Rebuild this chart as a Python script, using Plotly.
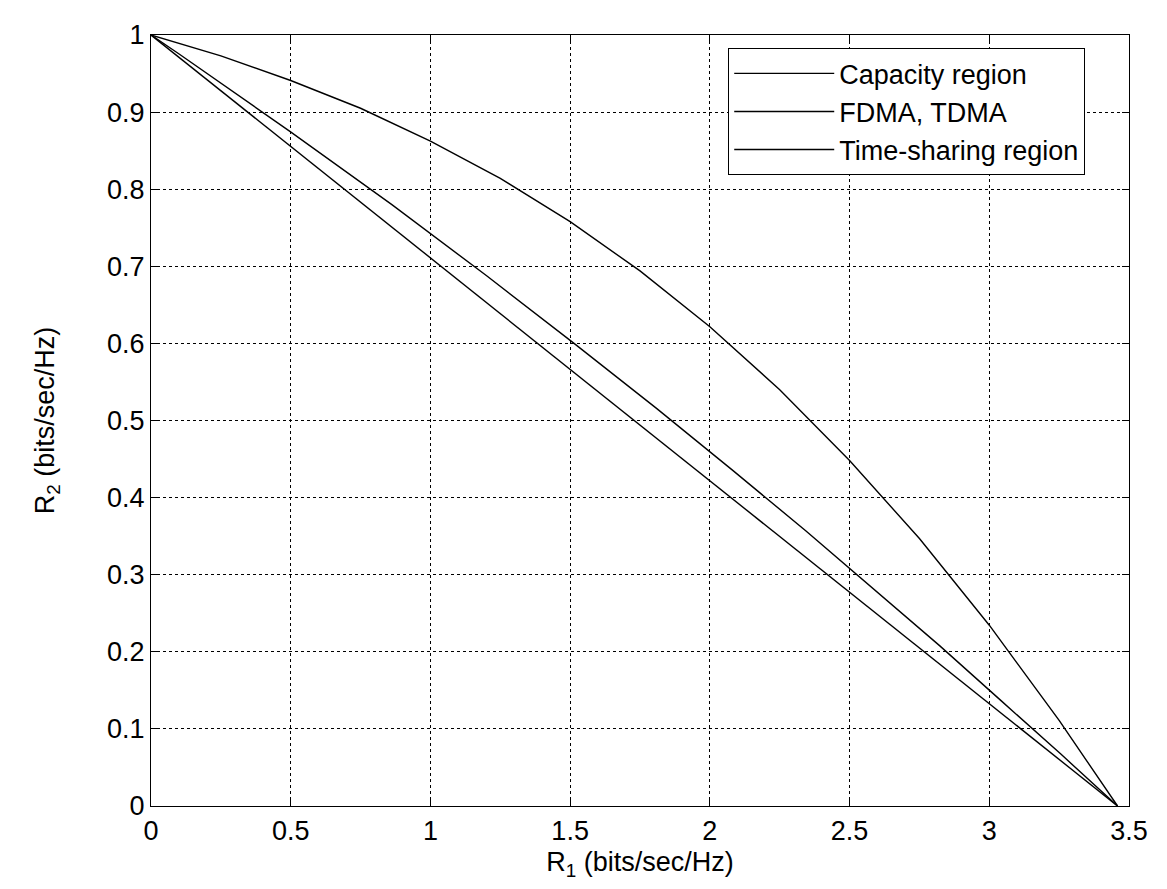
import plotly.graph_objects as go

# Capacity region (R1, R2)
cap_r1 = [0.0, 0.25, 0.5, 0.75, 1.0, 1.25, 1.5, 1.75, 2.0, 2.25, 2.5, 2.75, 3.0, 3.25, 3.459]
cap_r2 = [1.0, 0.973, 0.941, 0.905, 0.8625, 0.814, 0.758, 0.694, 0.6215, 0.540, 0.448, 0.347, 0.2345, 0.111, 0.0]

# FDMA, TDMA
fd_r1 = [0.0, 0.098, 0.497, 0.862, 1.200, 1.514, 1.808, 2.083, 2.343, 2.589, 2.822, 3.044, 3.257, 3.459]
fd_r2 = [1.0, 0.976, 0.875, 0.780, 0.688, 0.600, 0.516, 0.435, 0.357, 0.281, 0.208, 0.136, 0.067, 0.0]

# Time-sharing region
ts_r1 = [0.0, 3.459]
ts_r2 = [1.0, 0.0]

x_ticks = [0, 0.5, 1, 1.5, 2, 2.5, 3, 3.5]
y_ticks = [0, 0.1, 0.2, 0.3, 0.4, 0.5, 0.6, 0.7, 0.8, 0.9, 1]

FONT = "Arial, Liberation Sans, sans-serif"

fig = go.Figure()
fig.add_trace(go.Scatter(x=cap_r1, y=cap_r2, mode="lines", name="Capacity region",
                         line=dict(color="black", width=1.4)))
fig.add_trace(go.Scatter(x=fd_r1, y=fd_r2, mode="lines", name="FDMA, TDMA",
                         line=dict(color="black", width=1.4)))
fig.add_trace(go.Scatter(x=ts_r1, y=ts_r2, mode="lines", name="Time-sharing region",
                         line=dict(color="black", width=1.4)))

axis_common = dict(
    showline=True, linecolor="black", linewidth=1.2, mirror="ticks",
    ticks="inside", ticklen=7, tickcolor="black",
    showgrid=True, gridcolor="black", gridwidth=1, griddash="3px,3px",
    zeroline=False, automargin=False,
    tickfont=dict(family=FONT, size=27, color="black"),
)

fig.update_layout(
    width=1151, height=873,
    margin=dict(l=143, r=30, t=27, b=75),
    paper_bgcolor="white", plot_bgcolor="white",
    font=dict(family=FONT, color="black"),
    showlegend=True,
    legend=dict(x=0.59, y=0.983, xanchor="left", yanchor="top",
                bgcolor="white", bordercolor="black", borderwidth=1.2,
                font=dict(family=FONT, size=27, color="black"),
                itemwidth=100, tracegroupgap=0),
    xaxis=dict(range=[0, 3.5], tickvals=x_ticks,
               ticktext=[f"{v:g}" for v in x_ticks],
               title=dict(text="R<sub>1</sub> (bits/sec/Hz)", standoff=16,
                          font=dict(family=FONT, size=27, color="black")),
               **axis_common),
    yaxis=dict(range=[0, 1], tickvals=y_ticks,
               ticktext=[f"{v:g}" for v in y_ticks],
               title=dict(text="R<sub>2</sub> (bits/sec/Hz)", standoff=44,
                          font=dict(family=FONT, size=27, color="black")),
               **axis_common),
)

fig.write_html("out.html")
